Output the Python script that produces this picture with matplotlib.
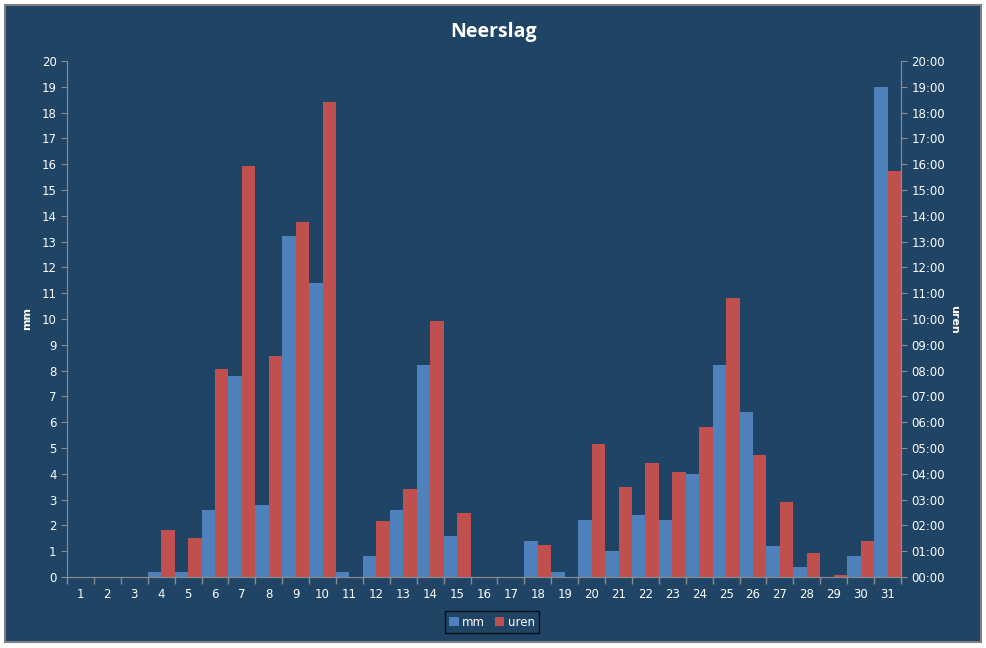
import matplotlib.pyplot as plt
import numpy as np
from matplotlib.patches import Rectangle

# Neerslag per dag
dagen = list(range(1, 32))
mm = [0, 0, 0, 0.2, 0.2, 2.6, 7.8, 2.8, 13.2, 11.4, 0.2, 0.8, 2.6, 8.2, 1.6, 0,
      0, 1.4, 0.2, 2.2, 1.0, 2.4, 2.2, 4.0, 8.2, 6.4, 1.2, 0.4, 0, 0.8, 19.0]
uren = [0, 0, 0, 1.82, 1.51, 8.07, 15.94, 8.56, 13.77, 18.42, 0, 2.17, 3.41, 9.92,
        2.48, 0, 0, 1.24, 0, 5.16, 3.49, 4.41, 4.06, 5.80, 10.80, 4.72, 2.89,
        0.92, 0.06, 1.38, 15.74]

bg = "#1F4466"
blauw = "#4F81BD"
rood = "#C0504D"
grijs = "#8C8C8C"
tekst = "#FFFFFF"

fig = plt.figure(figsize=(9.87, 6.48), dpi=100, facecolor="white")
# blauwe achtergrond met grijze rand, witte marge eromheen
fig.patches.append(Rectangle((5 / 987, 1 - 642 / 648), 976 / 987, 637 / 648,
                             transform=fig.transFigure, facecolor=bg,
                             edgecolor="#808080", linewidth=1.5, zorder=-10))

ax = fig.add_axes([67 / 987, 1 - 577 / 648, (901 - 67) / 987, (577 - 61) / 648])
ax.set_facecolor(bg)

x = np.array(dagen)
ax.bar(x - 0.25, mm, width=0.5, color=blauw, label="mm")
ax.bar(x + 0.25, uren, width=0.5, color=rood, label="uren")

ax.set_xlim(0.5, 31.5)
ax.set_ylim(0, 20)
ax.set_xticks(x)
ax.set_xticklabels([str(d) for d in dagen])
ax.set_xticks(np.arange(0.5, 32), minor=True)
ax.tick_params(axis="x", which="major", length=0, pad=8, colors=tekst, labelsize=8.5)
ax.tick_params(axis="x", which="minor", length=5, color=grijs, width=1)
ax.set_yticks(range(0, 21))
ax.tick_params(axis="y", length=4, color=grijs, labelcolor=tekst, labelsize=8.5)

ax2 = ax.twinx()
ax2.set_ylim(0, 20)
ax2.set_yticks(range(0, 21))
ax2.set_yticklabels([f"{h:02d}:00" for h in range(0, 21)])
ax2.tick_params(axis="y", length=4, color=grijs, labelcolor=tekst, labelsize=8.5)

for a in (ax, ax2):
    for s in a.spines.values():
        s.set_color(grijs)
    a.spines["top"].set_visible(False)

ax.set_ylabel("mm", color=tekst, fontsize=8, fontweight="bold")
ax.yaxis.set_label_coords((32 - 67) / 834, 0.5)
ax2.set_ylabel("uren", color=tekst, fontsize=8, fontweight="bold", rotation=-90, va="center")
ax2.yaxis.set_label_coords((954 - 67) / 834, 0.5)

fig.text(0.5, 1 - 32 / 648, "Neerslag", color=tekst, fontsize=14, fontweight="bold",
         ha="center", va="center", family="Open Sans")

leg = ax.legend(loc="center", bbox_to_anchor=(492 / 987, 1 - 622 / 648),
                bbox_transform=fig.transFigure, ncol=2, frameon=True, fontsize=8.5,
                handlelength=0.8, handleheight=0.8, handletextpad=0.3, columnspacing=0.8,
                borderpad=0.35, fancybox=False)
leg.get_frame().set_facecolor(bg)
leg.get_frame().set_edgecolor("black")
for t in leg.get_texts():
    t.set_color(tekst)

fig.savefig("out.png", dpi=100, facecolor="white")
